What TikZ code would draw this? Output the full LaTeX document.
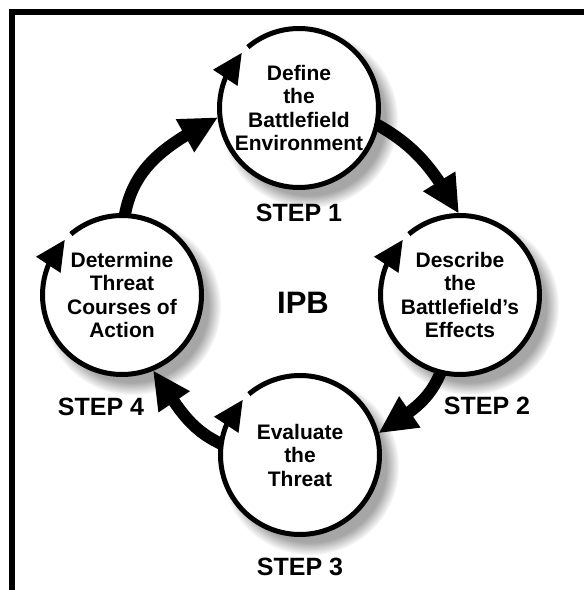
\documentclass[tikz,border=0pt]{standalone}
\usepackage{fontspec}
\setmainfont{Liberation Sans}
\usetikzlibrary{arrows.meta,positioning,shadows,fadings,bending}

\begin{document}
\begin{tikzpicture}[x=1pt,y=1pt,
      stepc/.style={circle,fill=white,minimum size=159pt,inner sep=0pt,outer sep=0pt,align=center,
        font=\bfseries\fontsize{21}{23.5}\selectfont,
        circular drop shadow={shadow xshift=9pt,shadow yshift=-10pt,shadow scale=1.12,opacity=.7}},
      ring/.style={line width=5pt,-{Triangle[length=30pt,width=28pt]}},
      flow/.style={line width=12pt,-{Triangle[length=38pt,width=35pt]},shorten >=2pt},
      lbl/.style={inner sep=0pt,font=\bfseries\fontsize{25}{25}\selectfont}
    ]
      \useasboundingbox (0,0) rectangle (584,590);
      \draw[line width=6pt] (12,0) -- (12,578) -- (584,578);
      % the four steps
      \node[stepc] (s1) at (299,482) {Define\\the\\Battlefield\\Environment};
      \node[stepc] (s2) at (460,295) {Describe\\the\\Battlefield’s\\Effects};
      \node[stepc] (s3) at (300,135) {Evaluate\\the\\Threat};
      \node[stepc] (s4) at (122,295) {Determine\\Threat\\Courses of\\Action};
      \foreach \s in {s1,s2,s3,s4}
        \draw[ring] (\s.130) arc[start angle=130,end angle=-224,radius=79.5];
      % cycle arrows
      \draw[flow] (s1.-12) to[out=-29,in=120] (s2.90);
      \draw[flow] (s2.-104) to[out=-112,in=35] (s3.15);
      \draw[flow] (s3.172) to[out=155,in=-54] (s4.-68);
      \draw[flow] (s4.88) to[out=80,in=208] (s1.186);
      % labels
      \node[lbl,below=16pt of s1] (t1) {STEP 1};
      \node[lbl] (t2) at (487,184) {STEP 2};
      \node[lbl,below=23pt of s3] (t3) {STEP 3};
      \node[lbl] (t4) at (101,183) {STEP 4};
      \node[font=\bfseries\fontsize{31}{31}\selectfont] (ipb) at (303,287) {IPB};
    \end{tikzpicture}
\end{document}
